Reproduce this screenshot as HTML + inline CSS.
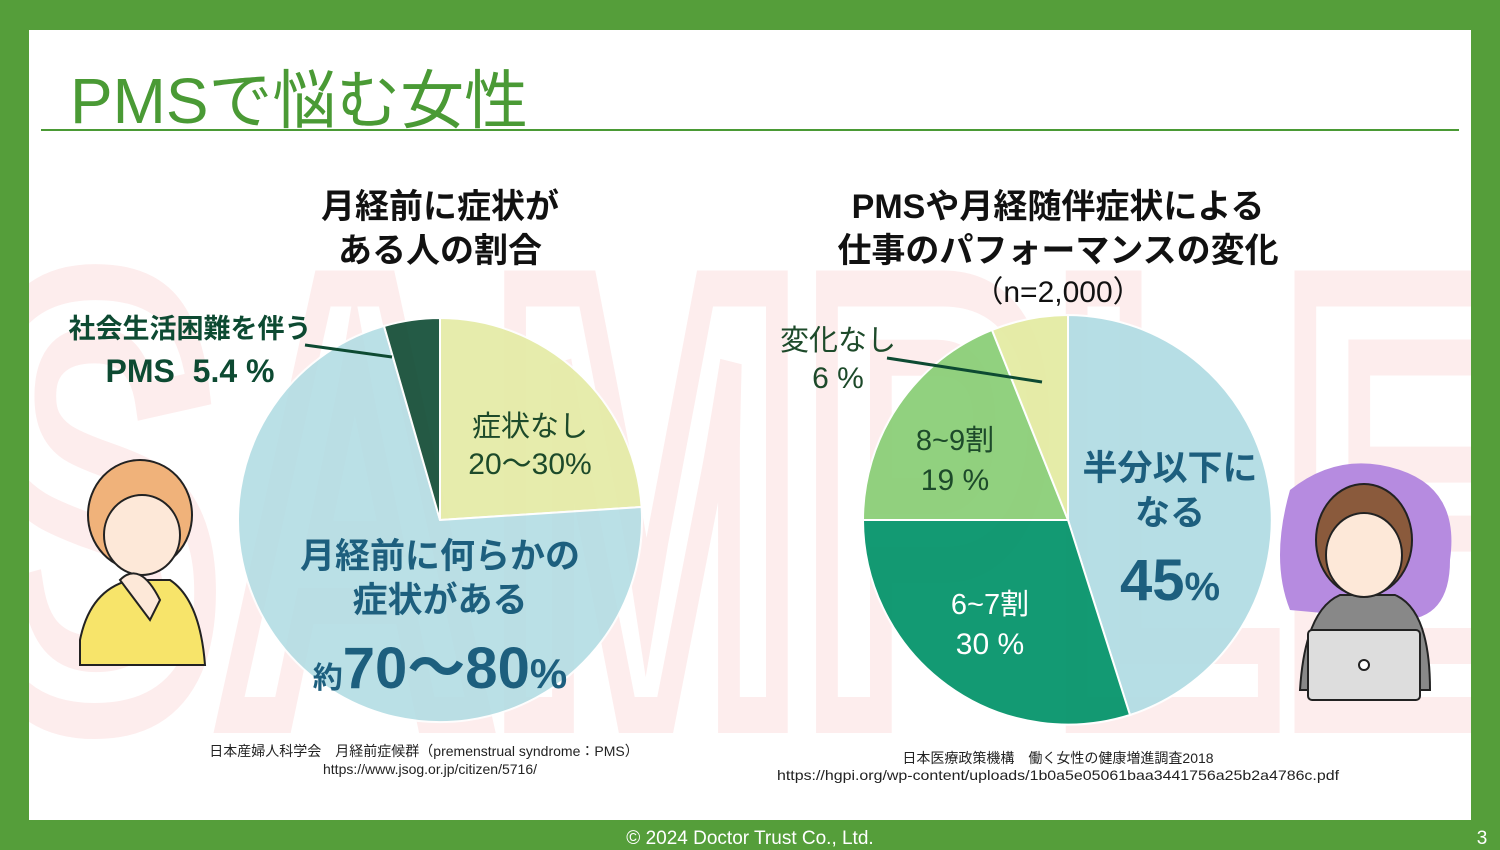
<!DOCTYPE html>
<html><head><meta charset="utf-8"><style>
html,body{margin:0;padding:0}
body{width:1500px;height:850px;background:#559e3a;position:relative;overflow:hidden;font-family:"Liberation Sans","Noto Sans CJK JP",sans-serif}
svg{position:absolute;left:0;top:0}
</style></head><body>
<svg width="1500" height="850" viewBox="0 0 1500 850" font-family="Liberation Sans, Noto Sans CJK JP, sans-serif">
<defs><clipPath id="c"><rect x="29" y="30" width="1442" height="790"/></clipPath></defs>
<rect x="29" y="30" width="1442" height="790" fill="#fff"/>
<!-- watermark -->
<g clip-path="url(#c)">
<text x="750" y="715" text-anchor="middle" font-size="620" font-weight="bold" fill="none" stroke="#fdeded" stroke-width="36" textLength="1560" lengthAdjust="spacingAndGlyphs">SAMPLE</text>
</g>
<text x="70" y="123" font-size="64" fill="#4a9a35" textLength="458" lengthAdjust="spacingAndGlyphs">PMSで悩む女性</text>
<line x1="41" y1="130" x2="1459" y2="130" stroke="#4a9a35" stroke-width="2"/>

<g opacity="0.9">
<path d="M440,520 L440,318 A202,202 0 0 1 641.6,507 Z" fill="#e4eba4" stroke="#fff" stroke-width="2"/>
<path d="M440,520 L641.6,507 A202,202 0 1 1 384,326 Z" fill="#b3dde4" stroke="#fff" stroke-width="2"/>
<path d="M440,520 L384,326 A202,202 0 0 1 440,318 Z" fill="#0d4a32" stroke="#fff" stroke-width="2"/>
</g>
<line x1="305" y1="345" x2="392" y2="357" stroke="#0d4a32" stroke-width="3"/>
<text x="440" y="218" text-anchor="middle" font-size="34" font-weight="bold" fill="#111">月経前に症状が</text>
<text x="440" y="262" text-anchor="middle" font-size="34" font-weight="bold" fill="#111">ある人の割合</text>
<text x="190" y="338" text-anchor="middle" font-size="27" font-weight="bold" fill="#0d4a32">社会生活困難を伴う</text>
<text x="190" y="382" text-anchor="middle" font-size="32" font-weight="bold" fill="#0d4a32" xml:space="preserve">PMS  5.4 %</text>
<text x="530" y="436" text-anchor="middle" font-size="29" fill="#1d4a2a">症状なし</text>
<text x="530" y="474" text-anchor="middle" font-size="30" fill="#1d4a2a">20～30%</text>
<text x="440" y="568" text-anchor="middle" font-size="35" font-weight="bold" fill="#1d5f7e">月経前に何らかの</text>
<text x="440" y="612" text-anchor="middle" font-size="35" font-weight="bold" fill="#1d5f7e">症状がある</text>
<text x="440" y="688" text-anchor="middle" font-weight="bold" fill="#1d5f7e"><tspan font-size="30">約</tspan><tspan font-size="58">70～80</tspan><tspan font-size="42">%</tspan></text>

<g opacity="0.95">
<path d="M1068,520 L1068,315 A205,205 0 0 1 1130,715 Z" fill="#b3dde4" stroke="#fff" stroke-width="2"/>
<path d="M1068,520 L1130,715 A205,205 0 0 1 863,520 Z" fill="#07956c" stroke="#fff" stroke-width="2"/>
<path d="M1068,520 L863,520 A205,205 0 0 1 992,330 Z" fill="#8ccf79" stroke="#fff" stroke-width="2"/>
<path d="M1068,520 L992,330 A205,205 0 0 1 1068,315 Z" fill="#e4eba4" stroke="#fff" stroke-width="2"/>
</g>
<line x1="887" y1="358" x2="1042" y2="382" stroke="#0d4a32" stroke-width="3"/>
<text x="1058" y="218" text-anchor="middle" font-size="34" font-weight="bold" fill="#111">PMSや月経随伴症状による</text>
<text x="1058" y="262" text-anchor="middle" font-size="34" font-weight="bold" fill="#111">仕事のパフォーマンスの変化</text>
<text x="1058" y="302" text-anchor="middle" font-size="30" fill="#111">（n=2,000）</text>
<text x="838" y="350" text-anchor="middle" font-size="29" fill="#1d4a2a">変化なし</text>
<text x="838" y="388" text-anchor="middle" font-size="30" fill="#1d4a2a">6 %</text>
<text x="955" y="450" text-anchor="middle" font-size="29" fill="#1d4a2a">8~9割</text>
<text x="955" y="490" text-anchor="middle" font-size="30" fill="#1d4a2a">19 %</text>
<text x="990" y="614" text-anchor="middle" font-size="29" fill="#fff">6~7割</text>
<text x="990" y="654" text-anchor="middle" font-size="30" fill="#fff">30 %</text>
<text x="1170" y="480" text-anchor="middle" font-size="35" font-weight="bold" fill="#1d5f7e">半分以下に</text>
<text x="1170" y="525" text-anchor="middle" font-size="35" font-weight="bold" fill="#1d5f7e">なる</text>
<text x="1170" y="600" text-anchor="middle" font-weight="bold" fill="#1d5f7e"><tspan font-size="58">45</tspan><tspan font-size="40">%</tspan></text>

<g stroke="#222" stroke-width="2">
<path d="M80,640 Q90,590 130,580 L170,580 Q200,600 205,665 L80,665 Z" fill="#f7e46a"/>
<ellipse cx="140" cy="515" rx="52" ry="55" fill="#f0b27a"/>
<ellipse cx="142" cy="535" rx="38" ry="40" fill="#fde8d8"/>
<path d="M120,580 Q140,560 160,600 L150,620 Z" fill="#fde8d8"/>
</g>
<path d="M1290,490 Q1340,450 1400,470 Q1460,490 1450,560 Q1450,620 1400,620 L1290,610 Q1270,560 1290,490 Z" fill="#b68be0"/>
<g stroke="#222" stroke-width="2">
<path d="M1300,690 Q1305,610 1340,595 L1395,595 Q1430,610 1430,690 Z" fill="#888"/>
<ellipse cx="1364" cy="540" rx="48" ry="56" fill="#8a5a3c"/>
<ellipse cx="1364" cy="555" rx="38" ry="42" fill="#fde8d8"/>
<rect x="1308" y="630" width="112" height="70" rx="4" fill="#ddd"/>
<circle cx="1364" cy="665" r="5" fill="#fff"/>
</g>

<text x="424" y="756" text-anchor="middle" font-size="14" fill="#222">日本産婦人科学会　月経前症候群（premenstrual syndrome：PMS）</text>
<text x="430" y="774" text-anchor="middle" font-size="14" fill="#222">https://www.jsog.or.jp/citizen/5716/</text>
<text x="1058" y="763" text-anchor="middle" font-size="14" fill="#222">日本医療政策機構　働く女性の健康増進調査2018</text>
<text x="1058" y="780" text-anchor="middle" font-size="14" fill="#222" textLength="562" lengthAdjust="spacingAndGlyphs">https://hgpi.org/wp-content/uploads/1b0a5e05061baa3441756a25b2a4786c.pdf</text>
<text x="750" y="844" text-anchor="middle" font-size="19" fill="#fff">© 2024 Doctor Trust Co., Ltd.</text>
<text x="1482" y="844" text-anchor="middle" font-size="19" fill="#fff">3</text>
</svg>
</body></html>
